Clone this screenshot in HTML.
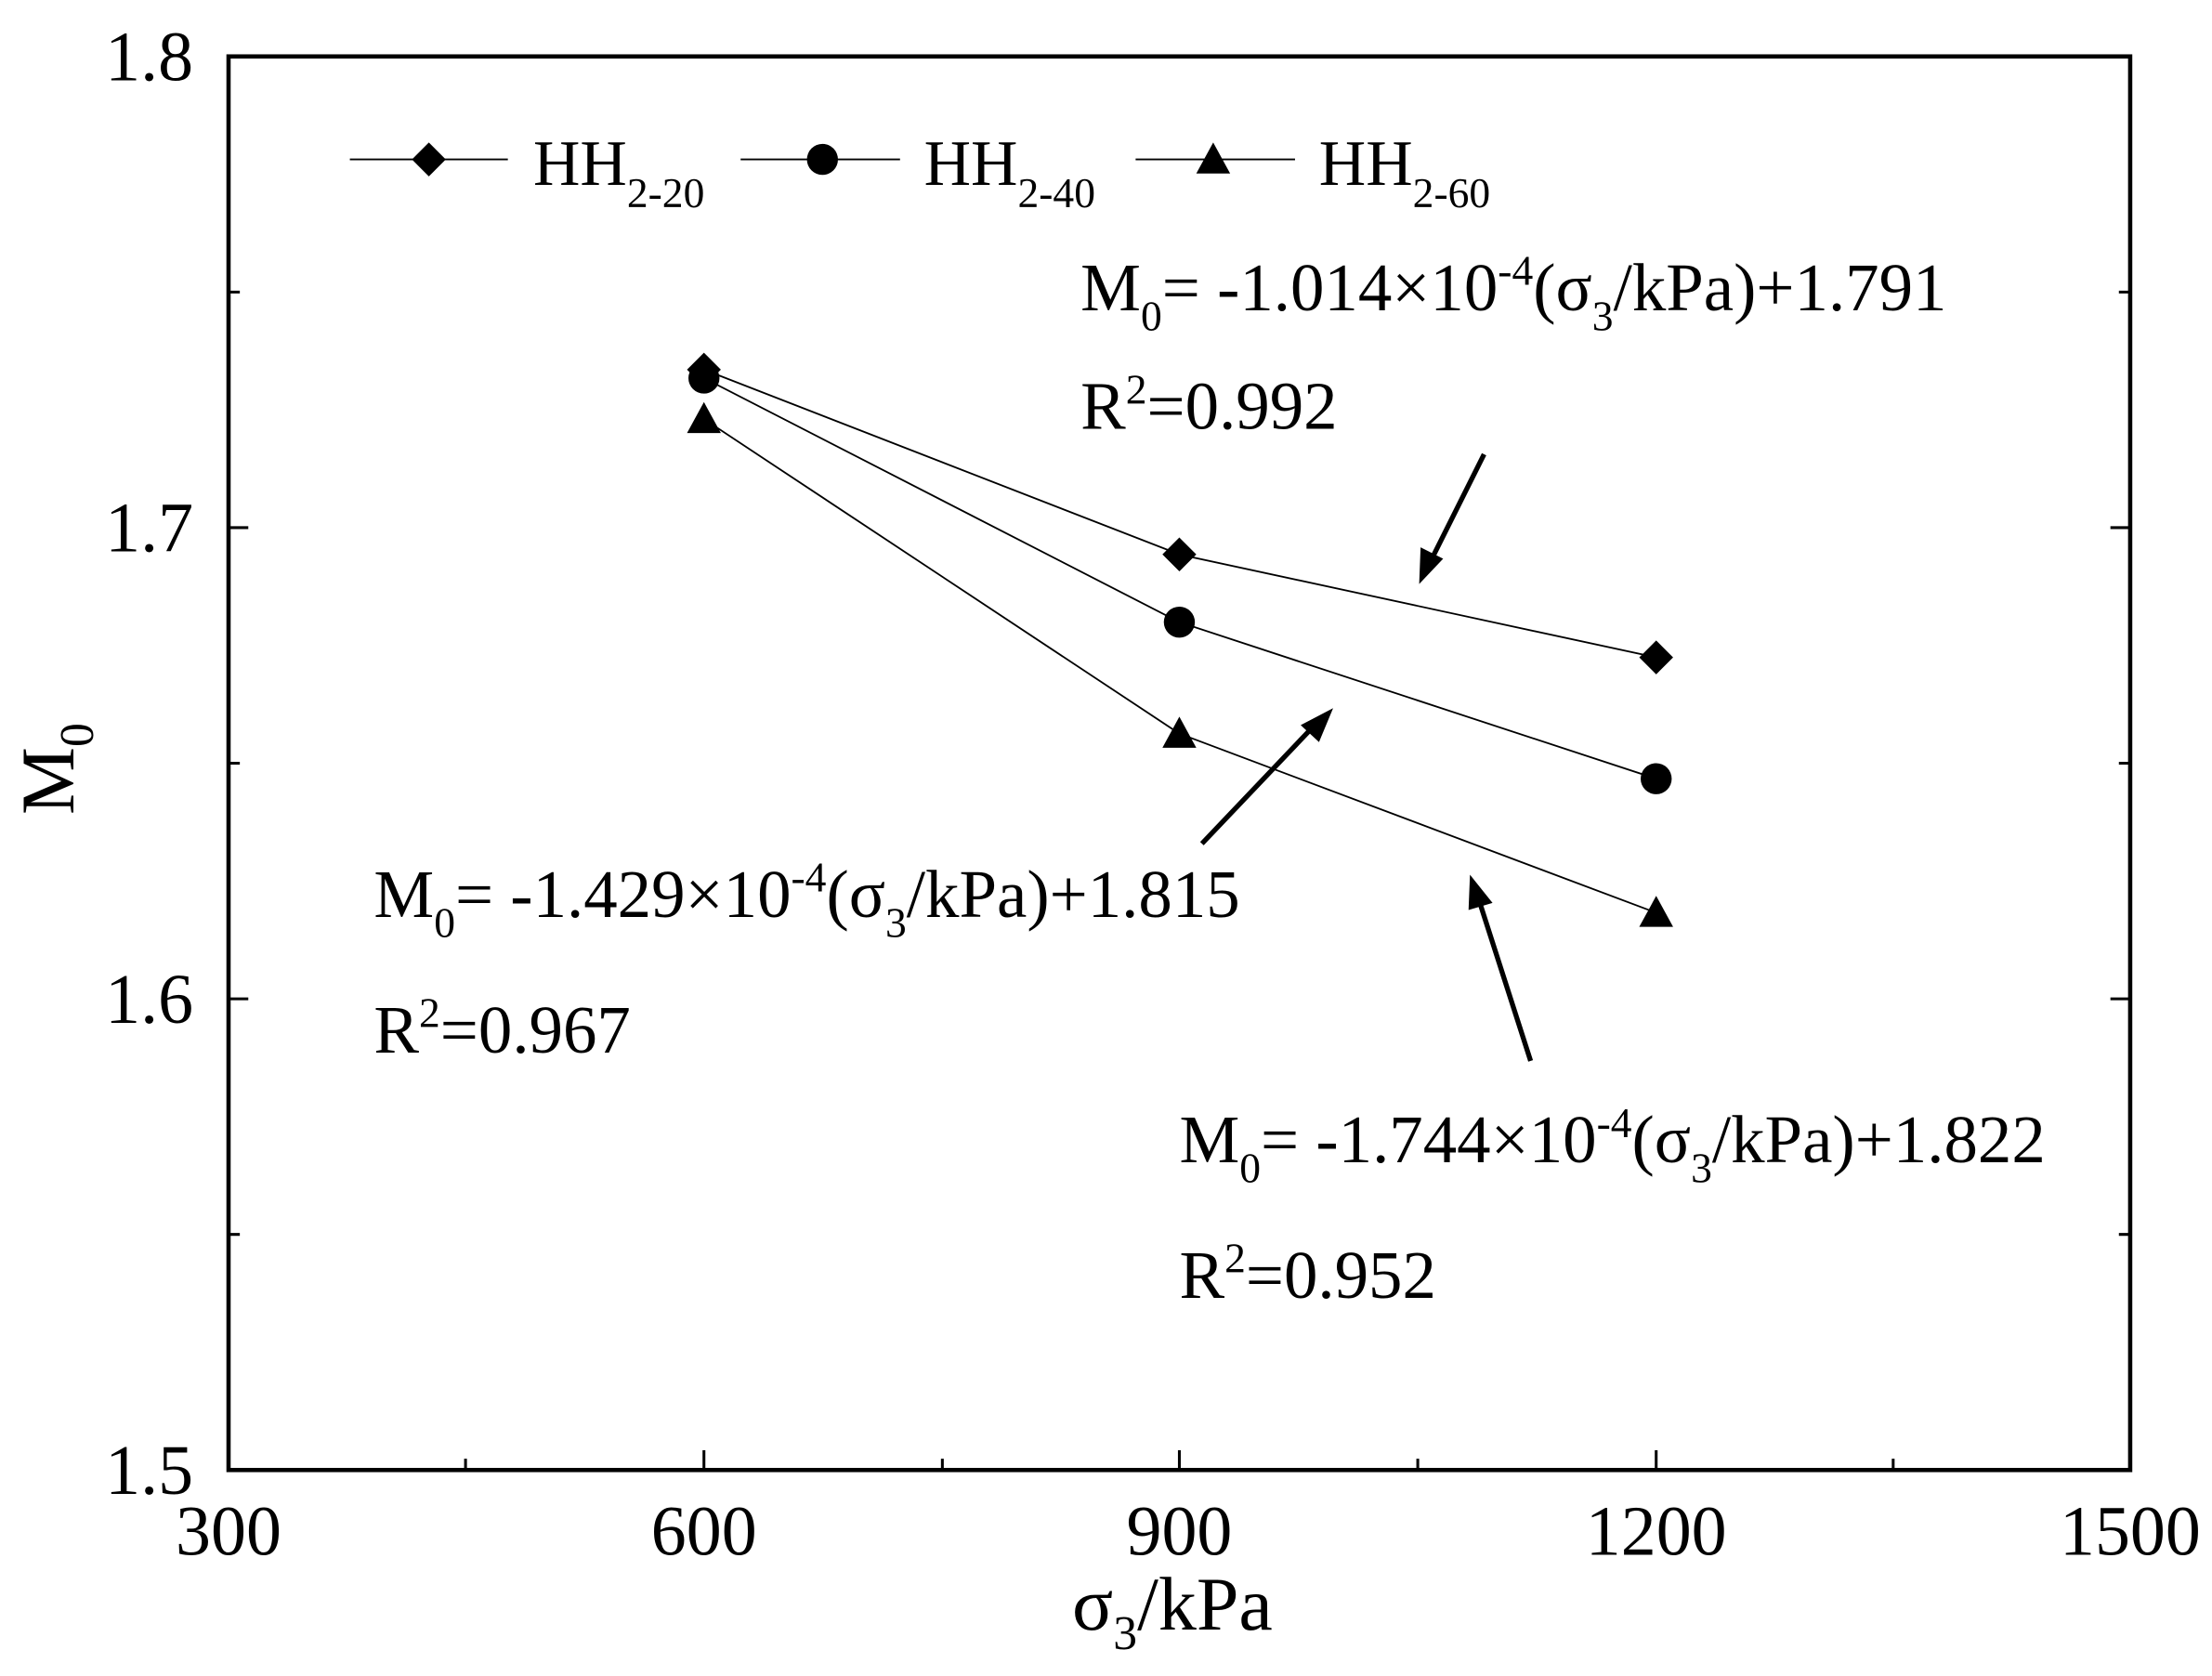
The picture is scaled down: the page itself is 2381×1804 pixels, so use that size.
<!DOCTYPE html>
<html><head><meta charset="utf-8"><style>html,body{margin:0;padding:0;background:#fff}svg{display:block}</style></head>
<body>
<svg width="2381" height="1804" viewBox="0 0 1568 1188" preserveAspectRatio="none" xmlns="http://www.w3.org/2000/svg" font-family="Liberation Serif, serif" fill="#000">
<rect width="1568" height="1188" fill="#fff"/>
<rect x="162" y="40" width="1348" height="1002" fill="none" stroke="#000" stroke-width="3"/>
<g stroke="#000" stroke-width="2">
<path d="M499 1042v-14M836 1042v-14M1174 1042v-14M330 1042v-8M668 1042v-8M1005 1042v-8M1342 1042v-8"/>
<path d="M162 374h14M162 708h14M162 207h8M162 541h8M162 875h8"/>
<path d="M1510 374h-14M1510 708h-14M1510 207h-8M1510 541h-8M1510 875h-8"/>
</g>
<g font-size="50">
<text x="137" y="57" text-anchor="end">1.8</text>
<text x="137" y="391" text-anchor="end">1.7</text>
<text x="137" y="725" text-anchor="end">1.6</text>
<text x="137" y="1059" text-anchor="end">1.5</text>
<text x="162" y="1102" text-anchor="middle">300</text>
<text x="499" y="1102" text-anchor="middle">600</text>
<text x="836" y="1102" text-anchor="middle">900</text>
<text x="1174" y="1102" text-anchor="middle">1200</text>
<text x="1510" y="1102" text-anchor="middle">1500</text>
</g>
<text x="760" y="1155" font-size="54">σ<tspan font-size="34" dy="14">3</tspan><tspan dy="-14">/kPa</tspan></text>
<text transform="translate(52,545) rotate(-90)" text-anchor="middle" font-size="54">M<tspan font-size="34" dy="14">0</tspan></text>
<g stroke="#000" stroke-width="1.2" fill="none">
<polyline points="499,262 836,393 1174,466"/>
<polyline points="499,268 836,441 1174,552"/>
<polyline points="499,297 836,520 1174,647"/>
<line x1="248" y1="113" x2="360" y2="113"/>
<line x1="525" y1="113" x2="638" y2="113"/>
<line x1="805" y1="113" x2="918" y2="113"/>
</g>
<g>
<path d="M499 250l12 12-12 12-12-12z"/><path d="M836 381l12 12-12 12-12-12z"/><path d="M1174 454l12 12-12 12-12-12z"/>
<circle cx="499" cy="268" r="11"/><circle cx="836" cy="441" r="11"/><circle cx="1174" cy="552" r="11"/>
<path d="M499 285l12 22h-24z"/><path d="M836 508l12 22h-24z"/><path d="M1174 635l12 22h-24z"/>
<path d="M304 101l12 12-12 12-12-12z"/><circle cx="583" cy="113" r="11"/><path d="M860 101l12 22h-24z"/>
</g>
<g font-size="46">
<text x="378" y="131">HH<tspan font-size="30" dy="16">2-20</tspan></text>
<text x="655" y="131">HH<tspan font-size="30" dy="16">2-40</tspan></text>
<text x="935" y="131">HH<tspan font-size="30" dy="16">2-60</tspan></text>
</g>
<g font-size="48">
<text x="766" y="220">M<tspan font-size="30" dy="14">0</tspan><tspan dy="-14">= -1.014×10</tspan><tspan font-size="30" dy="-18">-4</tspan><tspan dy="18">(σ</tspan><tspan font-size="30" dy="14">3</tspan><tspan dy="-14">/kPa)+1.791</tspan></text>
<text x="766" y="304">R<tspan font-size="30" dy="-18">2</tspan><tspan dy="18">=0.992</tspan></text>
<text x="265" y="650">M<tspan font-size="30" dy="14">0</tspan><tspan dy="-14">= -1.429×10</tspan><tspan font-size="30" dy="-18">-4</tspan><tspan dy="18">(σ</tspan><tspan font-size="30" dy="14">3</tspan><tspan dy="-14">/kPa)+1.815</tspan></text>
<text x="265" y="746">R<tspan font-size="30" dy="-18">2</tspan><tspan dy="18">=0.967</tspan></text>
<text x="836" y="824">M<tspan font-size="30" dy="14">0</tspan><tspan dy="-14">= -1.744×10</tspan><tspan font-size="30" dy="-18">-4</tspan><tspan dy="18">(σ</tspan><tspan font-size="30" dy="14">3</tspan><tspan dy="-14">/kPa)+1.822</tspan></text>
<text x="836" y="920">R<tspan font-size="30" dy="-18">2</tspan><tspan dy="18">=0.952</tspan></text>
</g>
<g stroke="#000" stroke-width="3.5">
<line x1="1052" y1="322" x2="1016" y2="394"/>
<line x1="852" y1="598" x2="930" y2="516"/>
<line x1="1085" y1="752" x2="1049" y2="640"/>
</g>
<path d="M1006 414l1-26 16 8z"/>
<path d="M945 502l-10 24-13-12z"/>
<path d="M1042 620l16 20-17 5z"/>
</svg>
</body></html>
